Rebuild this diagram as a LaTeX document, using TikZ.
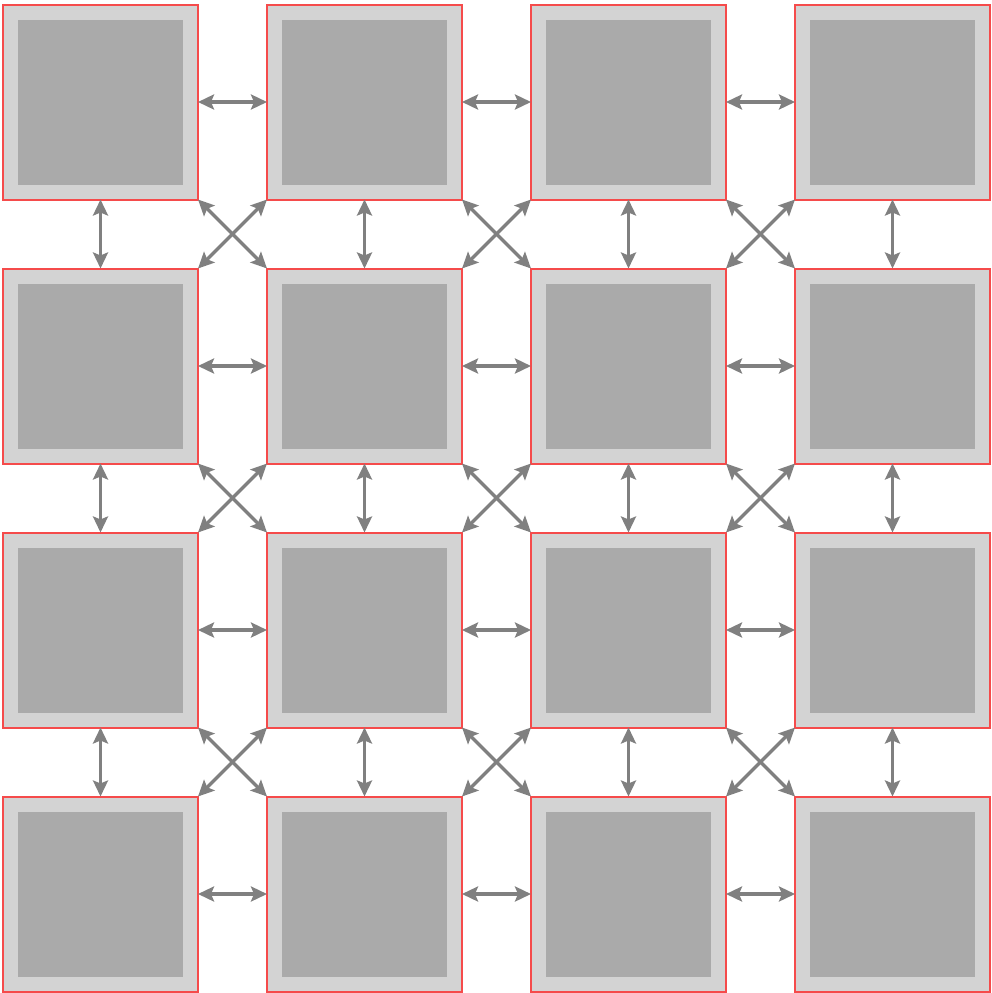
\documentclass[tikz,border=0pt]{standalone}
\usetikzlibrary{arrows.meta}
\definecolor{tilered}{RGB}{245,75,75}
\definecolor{tilefill}{RGB}{211,211,211}
\definecolor{corefill}{RGB}{170,170,170}
\definecolor{linkgray}{RGB}{128,128,128}
\tikzset{
  tile/.style={draw=tilered, line width=2pt, fill=tilefill, minimum size=195pt, inner sep=0pt, outer sep=0pt},
  core/.style={fill=corefill, minimum size=165pt, inner sep=0pt},
  link/.style={linkgray, line width=3.5pt, {Stealth[length=16pt,width=15pt,inset=3pt]}-{Stealth[length=16pt,width=15pt,inset=3pt]}}
}
\begin{document}
\begin{tikzpicture}[x=1pt,y=-1pt]
\useasboundingbox (0,0) rectangle (992,993);
\foreach \i in {1,...,4}
  \foreach \j in {1,...,4}
  {
    \node[tile] (t\i\j) at (100.5+264*\j-264, 102+264*\i-264) {};
    \node[core] (c\i\j) at (t\i\j.center) {};
  }
% row links
\foreach \i in {1,...,4}
  \foreach \j/\k in {1/2,2/3,3/4}
    \draw[link] (t\i\j.east) -- (t\i\k.west);
% column links
\foreach \i/\k in {1/2,2/3,3/4}
  \foreach \j in {1,...,4}
    \draw[link] (t\i\j.south) -- (t\k\j.north);
% crossing links
\foreach \i/\k in {1/2,2/3,3/4}
  \foreach \j/\l in {1/2,2/3,3/4}
  {
    \draw[link] (t\i\j.south east) -- (t\k\l.north west);
    \draw[link] (t\i\l.south west) -- (t\k\j.north east);
  }
\end{tikzpicture}
\end{document}
